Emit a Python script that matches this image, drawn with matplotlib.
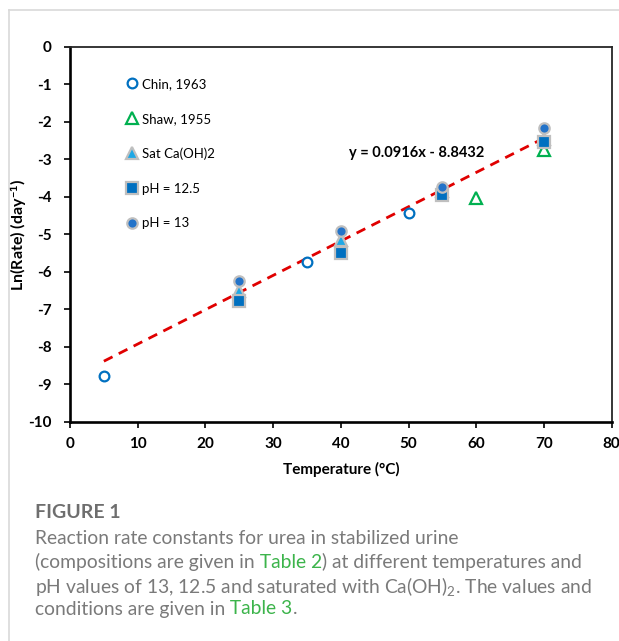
import matplotlib
matplotlib.use("Agg")
import numpy as np
import matplotlib.pyplot as plt
from matplotlib.lines import Line2D
from matplotlib.transforms import offset_copy

plt.rcParams['font.family'] = ['Lato', 'DejaVu Sans']
plt.rcParams['axes.unicode_minus'] = False
plt.rcParams['mathtext.fontset'] = 'custom'
plt.rcParams['mathtext.rm'] = 'Lato'
plt.rcParams['mathtext.it'] = 'Lato:italic'
plt.rcParams['mathtext.bf'] = 'Lato:bold'

# ---- data: ln(rate constant) vs temperature ----
chin_T   = [5, 35, 50]
chin_lnk = [-8.77, -5.74, -4.44]

shaw_T   = [60, 70]
shaw_lnk = [-4.02, -2.76]

sat_T    = [25, 40, 55, 70]
sat_lnk  = [-6.51, -5.15, -3.85, -2.45]

ph125_T   = [25, 40, 55, 70]
ph125_lnk = [-6.79, -5.49, -3.96, -2.53]

ph13_T   = [25, 40, 55, 70]
ph13_lnk = [-6.24, -4.90, -3.74, -2.17]

# linear fit reported on the chart
fit_slope = 0.0916
fit_icept = -8.8432
fit_range = [5, 70]

x_ticks = list(range(0, 81, 10))
y_ticks = list(range(-10, 1, 1))

GRAY_EDGE = '#BFBFBF'
CAP_GRAY = '#7a7a7a'
CAP_GREEN = '#3cb44b'

fig = plt.figure(figsize=(6.19, 6.41), dpi=100)
ax = fig.add_axes([0.1131, 0.3421, 0.8751, 0.5846])

# fitted trend line
xf = np.array(fit_range, dtype=float)
ax.plot(xf, fit_slope * xf + fit_icept, color='#E00000', lw=2.0,
        ls=(0, (3.5, 2.5)), zorder=2)

ax.plot(chin_T, chin_lnk, 'o', ls='none', ms=7, mfc='white', mec='#0070C0',
        mew=1.6, label='Chin, 1963', zorder=3)
ax.plot(shaw_T, shaw_lnk, '^', ls='none', ms=8, mfc='white', mec='#00B050',
        mew=1.6, label='Shaw, 1955', zorder=3)
ax.plot(sat_T, sat_lnk, '^', ls='none', ms=8, mfc='#1EA8E6', mec=GRAY_EDGE,
        mew=1.6, label='Sat Ca(OH)2', zorder=4)
ax.plot(ph125_T, ph125_lnk, 's', ls='none', ms=8, mfc='#0070C0', mec=GRAY_EDGE,
        mew=1.6, label='pH = 12.5', zorder=5)
ax.plot(ph13_T, ph13_lnk, 'o', ls='none', ms=7.5, mfc='#2373C9', mec=GRAY_EDGE,
        mew=1.6, label='pH = 13', zorder=6)

ax.text(51.2, -2.84, f"y = {fit_slope}x - {abs(fit_icept)}", ha='center',
        va='center', fontsize=10.5, fontweight='bold', color='black')

ax.set_xlim(0, 80)
ax.set_ylim(-10, 0)
ax.set_xticks(x_ticks)
ax.set_yticks(y_ticks)
ax.tick_params(axis='both', direction='out', length=4, width=1.2,
               labelsize=11, colors='black')
ax.tick_params(axis='y', pad=9)
ax.tick_params(axis='x', pad=7)
for lab in ax.get_xticklabels() + ax.get_yticklabels():
    lab.set_fontweight('bold')

for side in ('left', 'bottom'):
    ax.spines[side].set_linewidth(1.9)
    ax.spines[side].set_color('black')
for side in ('top', 'right'):
    ax.spines[side].set_linewidth(1.3)
    ax.spines[side].set_color('#262626')

ax.set_xlabel("Temperature (°C)", fontsize=11, fontweight='bold', labelpad=8)
ax.set_ylabel(r"Ln(Rate) (day$^{\mathbf{-1}}$)", fontsize=11.5,
              fontweight='bold', va='center')
ax.yaxis.set_label_coords(-51 / 542, 0.5)

leg = ax.legend(loc='upper left', bbox_to_anchor=(0.104, 0.917),
                frameon=False, handlelength=0.9, handletextpad=0.3,
                labelspacing=1.72, borderpad=0, borderaxespad=0,
                fontsize=9.5, numpoints=1)

# light border of the chart panel
fig.add_artist(Line2D([0.0145, 1.0], [0.9844, 0.9844], color='#d9d9d9',
                      lw=1.2, transform=fig.transFigure))
fig.add_artist(Line2D([0.0145, 0.0145], [0.0, 0.9844], color='#d9d9d9',
                      lw=1.2, transform=fig.transFigure))

# caption below the chart
cap_x = 35 / 619
fig.text(cap_x, 1 - 513 / 641, "FIGURE 1", fontsize=14, fontweight='bold',
         color='#6e6e6e', va='center', ha='left')

caption = [
    [("Reaction rate constants for urea in stabilized urine", CAP_GRAY)],
    [("(compositions are given in", CAP_GRAY), (" Table 2", CAP_GREEN),
     (") at different temperatures and", CAP_GRAY)],
    [(r"pH values of 13, 12.5 and saturated with Ca(OH)$_2$. The values and",
      CAP_GRAY)],
    [("conditions are given in", CAP_GRAY), (" Table 3", CAP_GREEN),
     (".", CAP_GRAY)],
]
line_y = [538, 562, 586, 609]

renderer = fig.canvas.get_renderer()
for parts, ypix in zip(caption, line_y):
    tr = fig.transFigure
    for s, c in parts:
        t = fig.text(cap_x, 1 - ypix / 641, s, fontsize=13.9, color=c,
                     va='center', ha='left', transform=tr)
        ext = t.get_window_extent(renderer=renderer)
        tr = offset_copy(tr, fig=fig, x=ext.width, y=0, units='dots')

fig.savefig("out.png", dpi=100)
